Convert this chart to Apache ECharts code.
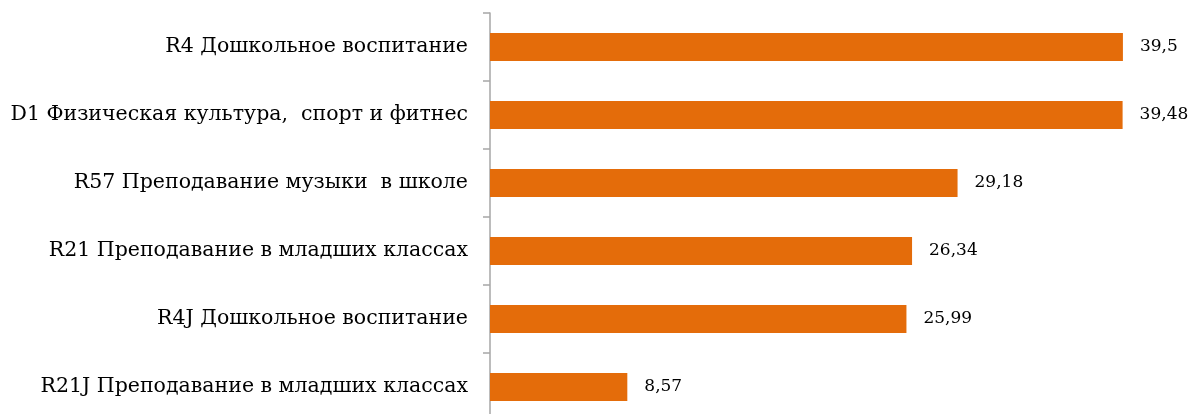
<!DOCTYPE html>
<html>
<head>
<meta charset="utf-8">
<script src="https://cdn.jsdelivr.net/npm/echarts@6/dist/echarts.min.js"></script>
<style>
html,body{margin:0;padding:0;background:#fff;}
#chart{width:1191px;height:414px;}
</style>
</head>
<body>
<div id="chart"></div>
<script>
const categories = [
  'R4 Дошкольное воспитание',
  'D1 Физическая культура,  спорт и фитнес',
  'R57 Преподавание музыки  в школе',
  'R21 Преподавание в младших классах',
  'R4J Дошкольное воспитание',
  'R21J Преподавание в младших классах'
];
const values = [39.5, 39.48, 29.18, 26.34, 25.99, 8.57];

const chart = echarts.init(document.getElementById('chart'));
chart.setOption({
  animation: false,
  backgroundColor: '#fff',
  grid: { left: 490, right: 12, top: 13, bottom: -7, containLabel: false, outerBoundsMode: 'none' },
  xAxis: {
    type: 'value', min: 0, max: 43,
    show: false
  },
  yAxis: {
    type: 'category',
    data: categories,
    inverse: true,
    axisLine: { show: true, lineStyle: { color: '#a6a6a6', width: 1.5 } },
    axisTick: { show: true, length: 7, lineStyle: { color: '#a6a6a6', width: 1.5 } },
    axisLabel: {
      margin: 22,
      fontFamily: 'DejaVu Serif',
      fontSize: 20.5,
      color: '#000'
    }
  },
  series: [{
    type: 'bar',
    data: values,
    barWidth: 28,
    itemStyle: { color: '#E46C0A' },
    label: {
      show: true,
      position: 'right',
      distance: 17,
      fontFamily: 'DejaVu Serif',
      fontSize: 17,
      color: '#000',
      formatter: p => String(p.value).replace('.', ',')
    }
  }]
});
</script>
</body>
</html>
